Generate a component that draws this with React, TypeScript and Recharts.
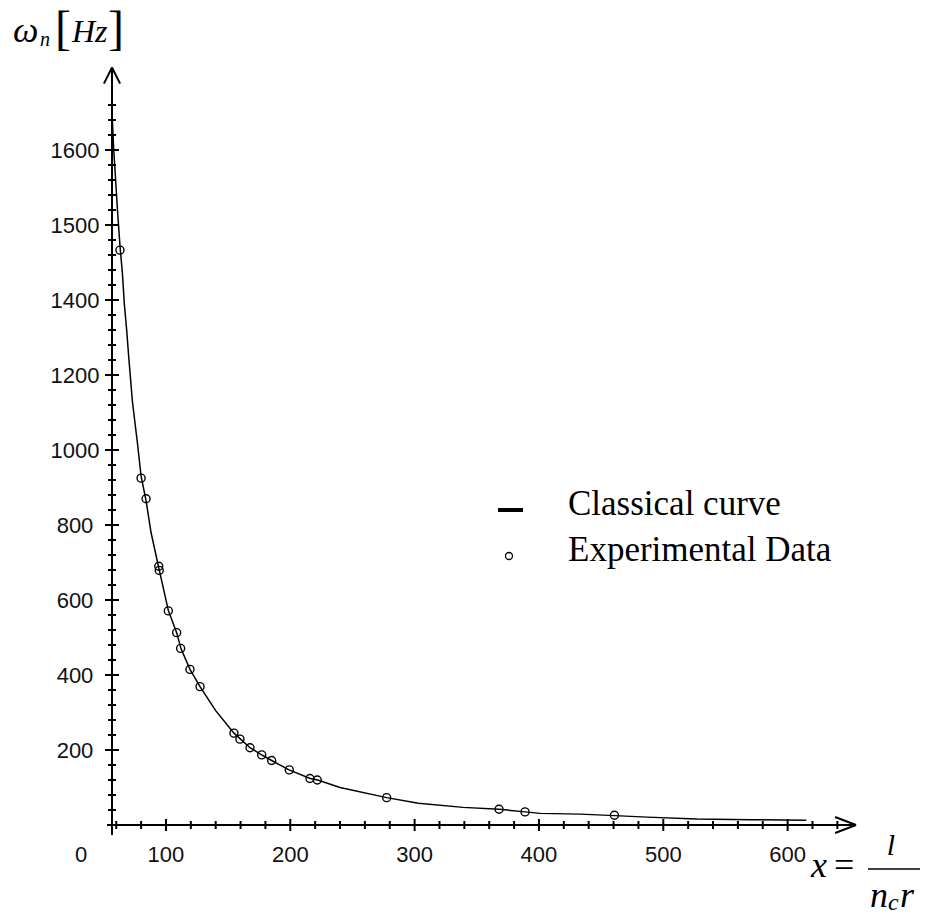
import {
  ComposedChart,
  Line,
  Scatter,
  XAxis,
  YAxis,
  Legend,
  ReferenceLine
} from "recharts";

// classical curve (x = l/(n_c r), omega_n)
const curveX = [56.6, 58, 59.5, 61, 63, 65, 66.5, 68.4, 70, 73, 77, 80, 84, 88, 94.4, 102, 108.6, 112, 119.3, 127.4, 140, 154.7, 160, 167.6, 177, 185, 199, 216, 222, 240, 277.5, 303, 339, 368, 389, 401, 433, 461, 487, 527, 570, 615];
const curveY = [1900, 1800, 1720, 1640, 1545, 1470, 1390, 1320, 1250, 1130, 1020, 930, 865, 780, 683, 571, 513, 471, 415, 369, 305, 245, 229, 206, 187, 172, 147, 124, 120, 100, 73, 58, 47, 42, 35, 31, 29, 25, 21, 16, 14, 13];

// experimental points
const expX = [63, 80, 84, 94.2, 94.6, 101.9, 108.6, 111.8, 119.3, 127.4, 154.7, 159.5, 167.6, 177, 185, 199.2, 215.8, 221.7, 277.5, 367.9, 388.8, 460.7];
const expY = [1533, 925, 870, 690, 679, 571, 513, 471, 415, 369, 245, 229, 206, 187, 172, 147, 124, 120, 73, 42, 35, 26];

// axes
const xDomain = [56.6, 655];
const yDomain = [0, 2020];
const xMajorTicks = [100, 200, 300, 400, 500, 600];
const xTickLabels = ["100", "200", "300", "400", "500", "600"];
const yMajorTicks = [200, 400, 600, 800, 1000, 1200, 1400, 1600, 1800];
const yTickLabels = ["200", "400", "600", "800", "1000", "1200", "1400", "1500", "1600"];

const curveData = curveX.map((x, i) => ({ x, y: curveY[i] }));
const expData = expX.map((x, i) => ({ x, y: expY[i] }));

const xTicks: number[] = [xDomain[0]];
for (let v = 60; v <= 640; v += 20) xTicks.push(v);
const yTicks: number[] = [];
for (let v = 40; v <= 1920; v += 40) yTicks.push(v);

const SANS = "'Liberation Sans', Arial, sans-serif";
const SERIF = "'Liberation Serif', 'Times New Roman', serif";

const XTick = (props: any) => {
  const { x, y, payload } = props;
  const v = payload.value;
  if (v === xDomain[0]) {
    return (
      <g>
        <line x1={x - 5} y1={y} x2={x} y2={y} stroke="#000" strokeWidth={2} />
        <line x1={x} y1={y} x2={x} y2={y + 10} stroke="#000" strokeWidth={2} />
        <text x={x - 31} y={y + 37} textAnchor="middle" fontFamily={SANS} fontSize={22} fill="#111">0</text>
      </g>
    );
  }
  const idx = xMajorTicks.indexOf(v);
  if (idx < 0) {
    return <line x1={x} y1={y - 4} x2={x} y2={y + 4} stroke="#000" strokeWidth={2} />;
  }
  return (
    <g>
      <line x1={x} y1={y - 6} x2={x} y2={y + 6} stroke="#000" strokeWidth={2} />
      <text x={x} y={y + 37} textAnchor="middle" fontFamily={SANS} fontSize={22} fill="#111">
        {xTickLabels[idx]}
      </text>
    </g>
  );
};

const YTick = (props: any) => {
  const { x, y, payload } = props;
  const idx = yMajorTicks.indexOf(payload.value);
  if (idx < 0) {
    return <line x1={x - 4} y1={y} x2={x + 4} y2={y} stroke="#000" strokeWidth={2} />;
  }
  return (
    <g>
      <line x1={x - 7} y1={y} x2={x + 7} y2={y} stroke="#000" strokeWidth={2} />
      <text x={x - 37} y={y + 8} textAnchor="middle" fontFamily={SANS} fontSize={22} fill="#111">
        {yTickLabels[idx]}
      </text>
    </g>
  );
};

const renderLegend = () => (
  <svg width={420} height={110}>
    <line x1={8} y1={40} x2={33} y2={40} stroke="#000" strokeWidth={4} />
    <text x={78} y={45} fontFamily={SERIF} fontSize={35} fill="#000">Classical curve</text>
    <circle cx={19} cy={86} r={3.5} fill="none" stroke="#000" strokeWidth={1.3} />
    <text x={78} y={91} fontFamily={SERIF} fontSize={35} fill="#000">Experimental Data</text>
  </svg>
);

const Ring = (props: any) => (
  <circle cx={props.cx} cy={props.cy} r={4} fill="none" stroke="#000" strokeWidth={1.4} />
);

const App = () => {
  return (
    <div style={{ position: "absolute", left: 0, top: 0, width: 925, height: 916, background: "#fff" }}>
      <ComposedChart
        width={925}
        height={916}
        margin={{ top: 67.5, right: 69, left: 12, bottom: 31 }}
      >
        <XAxis
          type="number"
          dataKey="x"
          domain={xDomain}
          allowDataOverflow
          ticks={xTicks}
          interval={0}
          tick={XTick}
          tickLine={false}
          tickSize={0}
          tickMargin={0}
          height={60}
          axisLine={{ stroke: "#000", strokeWidth: 2 }}
        />
        <YAxis
          type="number"
          dataKey="y"
          domain={yDomain}
          allowDataOverflow
          ticks={yTicks}
          interval={0}
          tick={YTick}
          tickLine={false}
          tickSize={0}
          tickMargin={0}
          width={100}
          axisLine={{ stroke: "#000", strokeWidth: 2 }}
        />
        <ReferenceLine segment={[{ x: 638.2, y: 21.3 }, { x: 655, y: 0 }]} stroke="#000" strokeWidth={2} ifOverflow="visible" />
        <ReferenceLine segment={[{ x: 638.2, y: -21.3 }, { x: 655, y: 0 }]} stroke="#000" strokeWidth={2} ifOverflow="visible" />
        <ReferenceLine segment={[{ x: 50.1, y: 1977 }, { x: 56.6, y: 2020 }]} stroke="#000" strokeWidth={2} ifOverflow="visible" />
        <ReferenceLine segment={[{ x: 63.1, y: 1977 }, { x: 56.6, y: 2020 }]} stroke="#000" strokeWidth={2} ifOverflow="visible" />
        <Line
          data={curveData}
          dataKey="y"
          type="linear"
          stroke="#000"
          strokeWidth={1.5}
          dot={false}
          isAnimationActive={false}
        />
        <Scatter data={expData} dataKey="y" shape={Ring} isAnimationActive={false} />
        <Legend
          layout="vertical"
          align="center"
          verticalAlign="middle"
          wrapperStyle={{ left: 490, top: 470, width: 420, height: 110 }}
          content={renderLegend}
        />
      </ComposedChart>
      <svg
        width={925}
        height={916}
        style={{ position: "absolute", left: 0, top: 0, pointerEvents: "none" }}
      >
        <text x={13} y={42} fontFamily={SERIF} fontStyle="italic" fontSize={36} fill="#000">ω</text>
        <text x={40} y={46} fontFamily={SERIF} fontStyle="italic" fontSize={20} fill="#000">n</text>
        <text x={55} y={44} fontFamily={SERIF} fontSize={48} fill="#000">[</text>
        <text x={72} y={42} fontFamily={SERIF} fontStyle="italic" fontSize={32} fill="#000">Hz</text>
        <text x={108} y={44} fontFamily={SERIF} fontSize={48} fill="#000">]</text>

        <text x={811} y={877} fontFamily={SERIF} fontStyle="italic" fontSize={36} fill="#000">x</text>
        <text x={834} y={877} fontFamily={SERIF} fontSize={36} fill="#000">=</text>
        <text x={891} y={855} textAnchor="middle" fontFamily={SERIF} fontStyle="italic" fontSize={30} fill="#000">l</text>
        <line x1={868} y1={869} x2={920} y2={869} stroke="#000" strokeWidth={1.5} />
        <text x={870} y={907} fontFamily={SERIF} fontStyle="italic" fontSize={36} fill="#000">n</text>
        <text x={888} y={910} fontFamily={SERIF} fontStyle="italic" fontSize={24} fill="#000">c</text>
        <text x={900} y={907} fontFamily={SERIF} fontStyle="italic" fontSize={36} fill="#000">r</text>
      </svg>
    </div>
  );
};

export default App;
